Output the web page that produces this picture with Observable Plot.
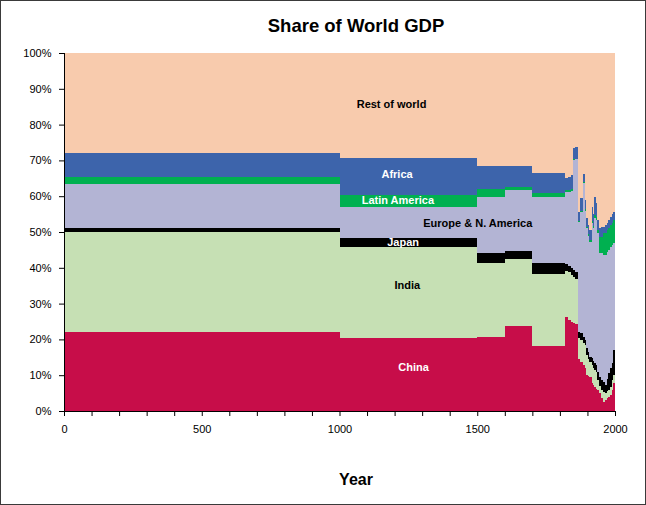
<!DOCTYPE html>
<html>
<head>
<meta charset="utf-8">
<script src="https://cdn.jsdelivr.net/npm/d3@7"></script>
<script src="https://cdn.jsdelivr.net/npm/@observablehq/plot@0.6"></script>
<style>
  html, body { margin: 0; padding: 0; background: #fff; }
  #wrap { position: relative; width: 646px; height: 505px; overflow: hidden; }
  #wrap svg { position: absolute; left: 0; top: 0; }
  #border { position: absolute; left: 0; top: 0; width: 646px; height: 505px; box-sizing: border-box; border: 1px solid #3a3a3a; pointer-events: none; }
</style>
</head>
<body>
<div id="wrap"><div id="border"></div></div>
<script>
// ---- data (shares of world GDP, %) ----
const years  = [0,1000,1500,1600,1700,1820,1830,1840,1846,1855,1864,1873,1883,1890,1895,1901,1907,1915,1920,1925,1930,1936,1943,1950,1957,1964,1970,1975,1982,1988,1993,2000];
const china  = [22.1,20.4,20.7,23.7,18.2,26.3,25.4,24.8,24.5,24.2,14.5,13.8,12.8,11.9,10.0,9.8,9.4,7.8,7.2,6.6,6.2,5.9,5.0,3.5,2.6,3.0,3.6,3.8,4.5,5.9,7.8,8.7];
const india  = [28.0,25.5,20.7,18.7,20.2,12.9,13.4,13.2,13.0,12.8,5.8,6.0,6.2,6.5,5.6,4.7,4.4,5.0,4.8,4.9,4.8,2.8,2.0,2.4,2.6,1.9,1.9,2.2,2.3,2.8,2.2,2.8];
const japan  = [0.9,2.5,2.6,2.4,2.9,1.8,1.8,2.0,2.0,1.8,1.8,1.9,1.8,1.4,2.0,2.0,1.4,1.9,2.0,1.8,1.8,2.3,2.5,2.8,2.8,2.4,3.5,4.6,5.2,4.7,7.0,5.5];
const europe = [12.4,8.7,15.7,16.9,18.4,20.3,20.7,21.5,30.5,31.5,30.8,34.0,42.9,36.2,33.4,32.5,32.1,37.7,37.0,40.7,40.6,38.6,34.5,35.3,35.6,36.3,35.5,34.4,33.9,33.1,30.0,30.8];
const latam  = [2.0,3.2,2.2,0.8,1.3,0.4,0.4,0.4,0.3,0.2,0.3,0.3,0.3,0.3,0.5,0.5,0.5,0.6,0.6,0.8,0.8,0.9,4.7,4.7,6.1,6.1,6.0,6.0,6.1,6.0,6.4,6.2];
const africa = [6.6,10.3,6.5,5.9,5.6,3.3,3.8,3.9,3.2,3.3,2.3,3.5,2.2,2.7,2.5,2.5,2.8,4.0,3.4,5.1,3.8,2.9,2.3,2.6,1.8,2.3,1.9,2.4,2.2,2.5,2.3,2.5];
const rest   = [28.0,29.4,31.6,31.6,33.4,35.0,34.5,34.2,26.5,26.2,44.5,40.5,33.8,41.0,46.0,48.0,49.4,43.0,45.0,40.1,42.0,46.6,49.0,48.7,48.5,48.0,47.6,46.6,45.8,45.0,44.3,43.5];

const regions = ["China","India","Japan","Europe & N. America","Latin America","Africa","Rest of world"];
const series  = [china, india, japan, europe, latam, africa, rest];
const colors  = ["#C70D49","#C6E0B4","#000000","#B3B4D4","#00B050","#3D64AB","#F8CBAD"];

const yTicks = [0,10,20,30,40,50,60,70,80,90,100];
const xTicks = d3.range(0, 2001, 100);

// label annotations (text, anchor year, anchor %, text colour)
const labelText  = ["Rest of world","Africa","Latin America","Europe & N. America","Japan","India","China"];
const labelYear  = [1187,1207,1210,1500,1229,1244,1267];
const labelPct   = [85.8,66.3,58.9,52.6,47.1,35.1,12.3];
const labelColor = ["#000","#fff","#fff","#000","#fff","#000","#fff"];

// ---- tidy table ----
const table = [];
years.forEach((yr, i) => {
  regions.forEach((r, k) => table.push({year: yr, region: r, share: series[k][i]}));
});
const labels = labelText.map((t, i) => ({t, x: labelYear[i], y: labelPct[i], c: labelColor[i]}));

const plot = Plot.plot({
  width: 646,
  height: 505,
  marginLeft: 64,
  marginRight: 31,
  marginTop: 53,
  marginBottom: 94,
  style: {fontFamily: "'Liberation Sans', Arial, sans-serif", fontSize: "11px", color: "#000", background: "transparent"},
  x: {domain: [0, 2000], label: null},
  y: {domain: [0, 100], label: null},
  color: {domain: regions, range: colors},
  marks: [
    Plot.areaY(table, {
      x: "year", y: "share", z: "region", fill: "region",
      order: regions, curve: "step-after",
      shapeRendering: "crispEdges"
    }),
    Plot.ruleX([0], {stroke: "#000", strokeWidth: 1}),
    Plot.ruleY([0], {stroke: "#000", strokeWidth: 1}),
    Plot.axisY({ticks: yTicks, tickSize: 5, tickPadding: 8, tickFormat: d => d + "%", label: null, stroke: "#000"}),
    Plot.axisX({ticks: xTicks, tickSize: 5, tickPadding: 9, tickFormat: d => (d % 500 === 0 ? String(d) : ""), label: null, stroke: "#000"}),
    Plot.text(labels, {x: "x", y: "y", text: "t", fill: "c", fontWeight: "bold", fontSize: 11, fontFamily: "'Liberation Sans', Arial, sans-serif"})
  ]
});

const svg = d3.select(plot);
svg.append("text")
  .attr("x", 356).attr("y", 32)
  .attr("text-anchor", "middle")
  .attr("font-family", "'Liberation Sans', Arial, sans-serif")
  .attr("font-size", 18.5).attr("font-weight", "bold").attr("fill", "#000")
  .text("Share of World GDP");
svg.append("text")
  .attr("x", 356).attr("y", 485)
  .attr("text-anchor", "middle")
  .attr("font-family", "'Liberation Sans', Arial, sans-serif")
  .attr("font-size", 16).attr("font-weight", "bold").attr("fill", "#000")
  .text("Year");

document.getElementById("wrap").insertBefore(plot, document.getElementById("border"));
</script>
</body>
</html>
